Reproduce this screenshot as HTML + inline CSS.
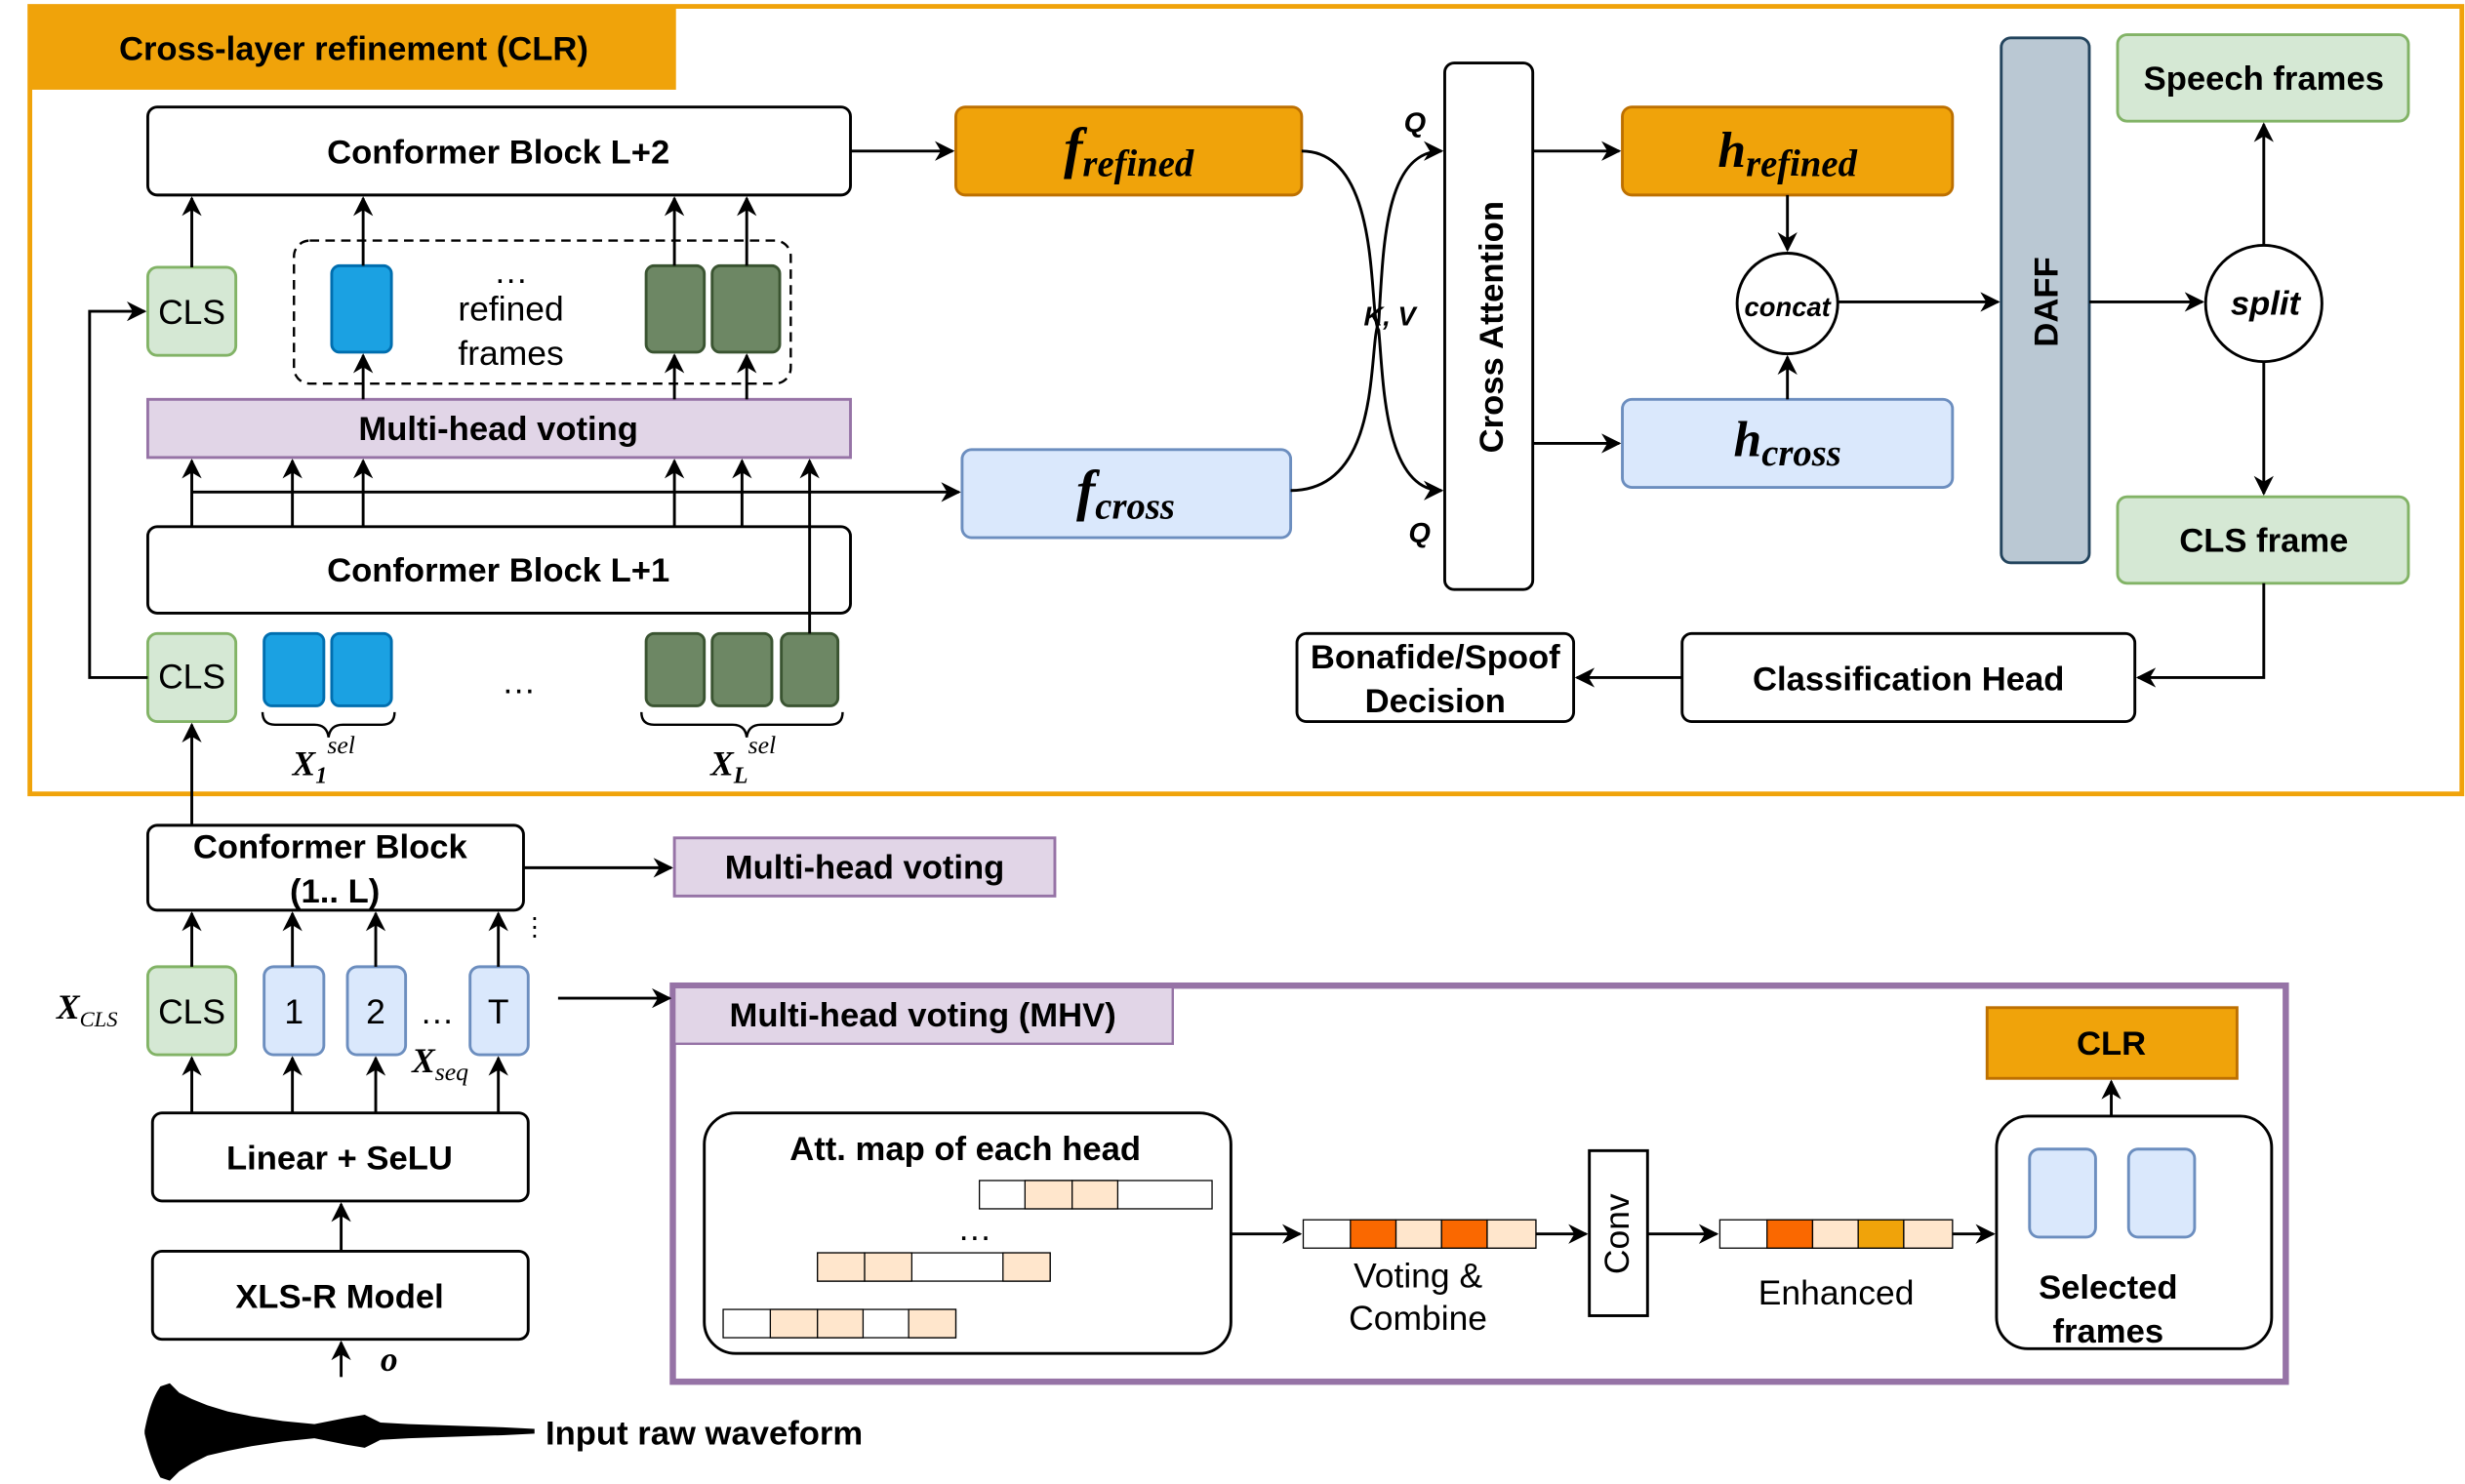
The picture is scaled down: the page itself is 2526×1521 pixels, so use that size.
<!DOCTYPE html>
<html><head><meta charset="utf-8"><style>body{margin:0;background:#fff}svg{display:block;font-family:"Liberation Sans",sans-serif}</style></head><body>
<svg width="2526" height="1521" viewBox="0 0 1568 944" xmlns="http://www.w3.org/2000/svg">
<defs><marker id="a" viewBox="0 0 10 10" refX="9" refY="5" markerWidth="7" markerHeight="7" orient="auto"><path d="M0,0 L10,5 L0,10 L3,5 z" fill="#000"/></marker></defs>
<rect width="1568" height="944" fill="#fff"/>
<rect x="19" y="4" width="1547" height="501" fill="none" stroke="#f0a30a" stroke-width="3"/>
<rect x="19" y="4" width="411" height="53" fill="#f0a30a"/>
<text x="225" y="38" font-size="21.5" font-weight="bold" text-anchor="middle">Cross-layer refinement (CLR)</text>
<g stroke="#000" stroke-width="1.8" fill="#fff">
<rect x="94" y="68" width="447" height="56" rx="6"/>
<rect x="94" y="335" width="447" height="55" rx="6"/>
<rect x="919" y="40" width="56" height="335" rx="6"/>
<rect x="1070" y="403" width="288" height="56" rx="6"/>
<rect x="825" y="403" width="176" height="56" rx="6"/>
<rect x="94" y="525" width="239" height="54" rx="6"/>
<rect x="97" y="708" width="239" height="56" rx="6"/>
<rect x="97" y="796" width="239" height="56" rx="6"/>
<circle cx="1137" cy="193" r="32"/>
<circle cx="1440" cy="193" r="37"/>
<rect x="448" y="708" width="335" height="153" rx="20"/>
<rect x="1011" y="732" width="37" height="105"/>
<rect x="1270" y="710" width="175" height="148" rx="20"/>
</g>
<g stroke-width="1.8">
<rect x="608" y="68" width="220" height="56" rx="6" fill="#f0a30a" stroke="#bd7000"/>
<rect x="1032" y="68" width="210" height="56" rx="6" fill="#f0a30a" stroke="#bd7000"/>
<rect x="1264" y="641" width="159" height="45" fill="#f0a30a" stroke="#bd7000"/>
<rect x="1032" y="254" width="210" height="56" rx="6" fill="#dae8fc" stroke="#6c8ebf"/>
<rect x="612" y="286" width="209" height="56" rx="6" fill="#dae8fc" stroke="#6c8ebf"/>
<rect x="1273" y="24" width="56" height="334" rx="6" fill="#bac8d3" stroke="#23445d"/>
<rect x="1347" y="22" width="185" height="55" rx="6" fill="#d5e8d4" stroke="#82b366"/>
<rect x="1347" y="316" width="185" height="55" rx="6" fill="#d5e8d4" stroke="#82b366"/>
<rect x="94" y="170" width="56" height="56" rx="6" fill="#d5e8d4" stroke="#82b366"/>
<rect x="94" y="403" width="56" height="56" rx="6" fill="#d5e8d4" stroke="#82b366"/>
<rect x="94" y="615" width="56" height="56" rx="6" fill="#d5e8d4" stroke="#82b366"/>
<rect x="94" y="254" width="447" height="37" fill="#e1d5e7" stroke="#9673a6"/>
<rect x="429" y="533" width="242" height="37" fill="#e1d5e7" stroke="#9673a6"/>
<rect x="211" y="169" width="38" height="55" rx="5" fill="#1ba1e2" stroke="#006eaf"/>
<rect x="411" y="169" width="37" height="55" rx="5" fill="#6d8764" stroke="#3a5431"/>
<rect x="453" y="169" width="43" height="55" rx="5" fill="#6d8764" stroke="#3a5431"/>
<rect x="168" y="403" width="38" height="46" rx="5" fill="#1ba1e2" stroke="#006eaf"/>
<rect x="211" y="403" width="38" height="46" rx="5" fill="#1ba1e2" stroke="#006eaf"/>
<rect x="411" y="403" width="37" height="46" rx="5" fill="#6d8764" stroke="#3a5431"/>
<rect x="453" y="403" width="38" height="46" rx="5" fill="#6d8764" stroke="#3a5431"/>
<rect x="497" y="403" width="36" height="46" rx="5" fill="#6d8764" stroke="#3a5431"/>
<rect x="168" y="615" width="38" height="56" rx="6" fill="#dae8fc" stroke="#6c8ebf"/>
<rect x="221" y="615" width="37" height="56" rx="6" fill="#dae8fc" stroke="#6c8ebf"/>
<rect x="299" y="615" width="37" height="56" rx="6" fill="#dae8fc" stroke="#6c8ebf"/>
<rect x="1291" y="731" width="42" height="56" rx="6" fill="#dae8fc" stroke="#6c8ebf"/>
<rect x="1354" y="731" width="42" height="56" rx="6" fill="#dae8fc" stroke="#6c8ebf"/>
</g>
<rect x="187" y="153" width="316" height="91" rx="10" fill="none" stroke="#000" stroke-width="1.5" stroke-dasharray="6,4"/>
<rect x="428" y="627" width="1026" height="252" fill="none" stroke="#9673a6" stroke-width="4"/>
<rect x="429" y="628" width="317" height="36" fill="#e1d5e7" stroke="#9673a6" stroke-width="1.5"/>
<g stroke="#000" stroke-width="0.8">
<rect x="623" y="751" width="148" height="18" fill="#fff"/><rect x="652" y="751" width="30" height="18" fill="#ffe6cc"/><rect x="682" y="751" width="29" height="18" fill="#ffe6cc"/>
<rect x="520" y="797" width="148" height="18" fill="#fff"/><rect x="520" y="797" width="30" height="18" fill="#ffe6cc"/><rect x="550" y="797" width="30" height="18" fill="#ffe6cc"/><rect x="638" y="797" width="30" height="18" fill="#ffe6cc"/>
<rect x="460" y="833" width="148" height="18" fill="#fff"/><rect x="490" y="833" width="30" height="18" fill="#ffe6cc"/><rect x="520" y="833" width="29" height="18" fill="#ffe6cc"/><rect x="578" y="833" width="30" height="18" fill="#ffe6cc"/>
<rect x="829" y="776" width="148" height="18" fill="#fff"/><rect x="859" y="776" width="29" height="18" fill="#fa6800"/><rect x="888" y="776" width="29" height="18" fill="#ffe6cc"/><rect x="917" y="776" width="29" height="18" fill="#fa6800"/><rect x="946" y="776" width="31" height="18" fill="#ffe6cc"/>
<rect x="1094" y="776" width="148" height="18" fill="#fff"/><rect x="1124" y="776" width="29" height="18" fill="#fa6800"/><rect x="1153" y="776" width="29" height="18" fill="#ffe6cc"/><rect x="1182" y="776" width="29" height="18" fill="#f0a30a"/><rect x="1211" y="776" width="31" height="18" fill="#ffe6cc"/>
</g>
<g stroke="#000" stroke-width="1.8" fill="none" marker-end="url(#a)">
<line x1="541" y1="96" x2="606" y2="96"/>
<line x1="122" y1="170" x2="122" y2="126"/>
<line x1="231" y1="169" x2="231" y2="126"/>
<line x1="429" y1="169" x2="429" y2="126"/>
<line x1="475" y1="169" x2="475" y2="126"/>
<line x1="231" y1="254" x2="231" y2="226"/>
<line x1="429" y1="254" x2="429" y2="226"/>
<line x1="475" y1="254" x2="475" y2="226"/>
<line x1="122" y1="335" x2="122" y2="293"/>
<line x1="186" y1="335" x2="186" y2="293"/>
<line x1="231" y1="335" x2="231" y2="293"/>
<line x1="429" y1="335" x2="429" y2="293"/>
<line x1="472" y1="335" x2="472" y2="293"/>
<polyline points="515,403 515,293"/>
<line x1="122" y1="313" x2="610" y2="313"/>
<polyline points="94,431 57,431 57,198 92,198"/>
<line x1="122" y1="525" x2="122" y2="461"/>
<path d="M828,96 C880,96 870,200 877,210 C880,240 880,312 917,312"/>
<path d="M821,312 C880,312 870,220 877,205 C880,160 880,96 917,96"/>
<line x1="975" y1="96" x2="1030" y2="96"/>
<line x1="975" y1="282" x2="1030" y2="282"/>
<line x1="1137" y1="124" x2="1137" y2="159"/>
<line x1="1137" y1="254" x2="1137" y2="227"/>
<line x1="1169" y1="192" x2="1271" y2="192"/>
<line x1="1329" y1="192" x2="1401" y2="192"/>
<line x1="1440" y1="156" x2="1440" y2="79"/>
<line x1="1440" y1="230" x2="1440" y2="314"/>
<polyline points="1440,371 1440,431 1360,431"/>
<line x1="1070" y1="431" x2="1003" y2="431"/>
<line x1="333" y1="552" x2="427" y2="552"/>
<line x1="355" y1="635" x2="426" y2="635"/>
<line x1="122" y1="615" x2="122" y2="581"/>
<line x1="186" y1="615" x2="186" y2="581"/>
<line x1="239" y1="615" x2="239" y2="581"/>
<line x1="317" y1="615" x2="317" y2="581"/>
<line x1="122" y1="708" x2="122" y2="673"/>
<line x1="186" y1="708" x2="186" y2="673"/>
<line x1="239" y1="708" x2="239" y2="673"/>
<line x1="317" y1="708" x2="317" y2="673"/>
<line x1="217" y1="796" x2="217" y2="766"/>
<line x1="217" y1="876" x2="217" y2="854"/>
<line x1="783" y1="785" x2="827" y2="785"/>
<line x1="977" y1="785" x2="1009" y2="785"/>
<line x1="1048" y1="785" x2="1092" y2="785"/>
<line x1="1242" y1="785" x2="1268" y2="785"/>
<line x1="1343" y1="710" x2="1343" y2="688"/>
</g>
<g stroke="#000" stroke-width="1.5" fill="none">
<path d="M167,453 q0,8 8,8 h25 q8,0 9,8 q1,-8 9,-8 h25 q8,0 8,-8"/>
<path d="M408,453 q0,8 8,8 h50 q8,0 9,8 q1,-8 9,-8 h44 q8,0 8,-8"/>
</g>
<!-- waveform -->
<path d="M92,910 C95,895 98,888 102,882 L108,880 L114,886 L122,890 L132,894 L145,898 L160,901 L180,904 L200,906 L220,902 L232,900 L242,905 L260,906 L290,907 L320,908 L340,909 L340,912 L320,913 L290,914 L260,915 L242,916 L232,921 L220,919 L200,915 L180,917 L160,920 L145,923 L132,926 L122,931 L114,936 L108,942 L102,940 C98,932 95,925 92,912 Z" fill="#000"/>
<g font-size="21.5" font-weight="bold" text-anchor="middle">
<text x="317" y="104">Conformer Block L+2</text>
<text x="317" y="370">Conformer Block L+1</text>
<text x="317" y="280">Multi-head voting</text>
<text x="1214" y="439">Classification Head</text>
<text x="913" y="425">Bonafide/Spoof</text><text x="913" y="453">Decision</text>
<text x="1440" y="57">Speech frames</text>
<text x="1440" y="351">CLS frame</text>
<text x="210" y="546">Conformer Block</text><text x="213" y="574">(1.. L)</text>
<text x="550" y="559">Multi-head voting</text>
<text x="216" y="744">Linear + SeLU</text>
<text x="216" y="832">XLS-R Model</text>
<text x="587" y="653">Multi-head voting (MHV)</text>
<text x="614" y="738">Att. map of each head</text>
<text x="1343" y="671">CLR</text>
<text x="1341" y="826">Selected</text><text x="1341" y="854">frames</text>
<text x="347" y="919" text-anchor="start">Input raw waveform</text>
<text x="956" y="208" transform="rotate(-90 956 208)">Cross Attention</text>
<text x="1309" y="192" transform="rotate(-90 1309 192)">DAFF</text>
<text x="900" y="84" font-style="italic" font-size="18">Q</text>
<text x="903" y="345" font-style="italic" font-size="18">Q</text>
<text x="884" y="207" font-style="italic" font-size="17">K, V</text>
<text x="1137" y="201" font-style="italic" font-size="17">concat</text>
<text x="1441" y="200" font-style="italic">split</text>
</g>
<g font-size="22" text-anchor="middle">
<text x="122" y="206">CLS</text><text x="122" y="438">CLS</text><text x="122" y="651">CLS</text>
<text x="187" y="651">1</text><text x="239" y="651">2</text><text x="317" y="651">T</text>
<text x="278" y="651">…</text><text x="330" y="441">…</text>
<text x="325" y="180">…</text>
<text x="325" y="204">refined</text><text x="325" y="232">frames</text>
<text x="620" y="789">…</text>
<text x="902" y="819">Voting &amp;</text><text x="902" y="846">Combine</text>
<text x="1168" y="830">Enhanced</text>
<text x="1036" y="785" transform="rotate(-90 1036 785)">Conv</text>
<text x="340" y="595" font-size="16">⋮</text>
</g>
<g style="font-family:'Liberation Serif',serif" font-style="italic" font-weight="bold">
<text x="718" y="106" font-size="36" text-anchor="middle">f<tspan font-size="24" dy="6">refined</tspan></text>
<text x="1137" y="106" font-size="32" text-anchor="middle">h<tspan font-size="24" dy="6">refined</tspan></text>
<text x="1137" y="290" font-size="32" text-anchor="middle">h<tspan font-size="24" dy="6">cross</tspan></text>
<text x="716" y="324" font-size="36" text-anchor="middle">f<tspan font-size="24" dy="6">cross</tspan></text>
<text x="186" y="493" font-size="22">X<tspan font-size="15" dy="5">1</tspan><tspan font-size="16" dy="-19" font-weight="normal">sel</tspan></text>
<text x="452" y="493" font-size="22">X<tspan font-size="15" dy="5">L</tspan><tspan font-size="16" dy="-19" font-weight="normal">sel</tspan></text>
<text x="36" y="648" font-size="22">X<tspan font-size="14" dy="5" font-weight="normal">CLS</tspan></text>
<text x="262" y="682" font-size="22">X<tspan font-size="16" dy="5" font-weight="normal">seq</tspan></text>
<text x="242" y="872" font-size="22">o</text>
</g>
</svg>
</body></html>
